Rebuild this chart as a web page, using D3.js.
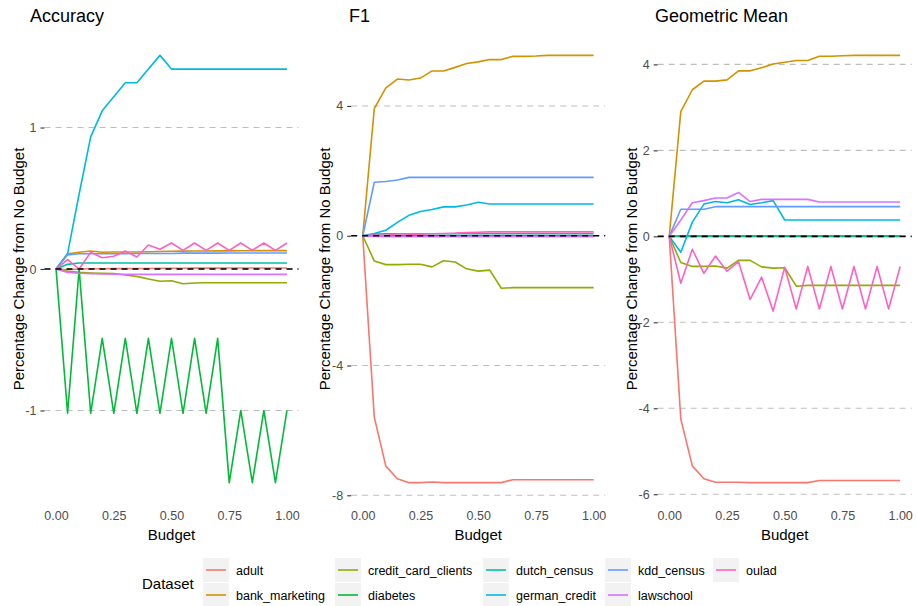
<!DOCTYPE html>
<html>
<head>
<meta charset="utf-8">
<script src="https://cdn.jsdelivr.net/npm/d3@7"></script>
<style>
  body { margin: 0; background: #fff; }
  svg text { font-family: "Liberation Sans", Arial, sans-serif; }
</style>
</head>
<body>
<svg id="chart" width="917" height="606"></svg>
<script>
// budget steps on the x axis
var budget = [0, 0.05, 0.10, 0.15, 0.20, 0.25, 0.30, 0.35, 0.40, 0.45, 0.50,
              0.55, 0.60, 0.65, 0.70, 0.75, 0.80, 0.85, 0.90, 0.95, 1.00];

var datasets = ["adult", "bank_marketing", "credit_card_clients", "diabetes", "dutch_census",
                "german_credit", "kdd_census", "lawschool", "oulad"];
var colors = ["#F8766D", "#D39200", "#93AA00", "#00BA38", "#00C19F",
              "#00B9E3", "#619CFF", "#DB72FB", "#FF61C3"];

var xTicks = [0, 0.25, 0.5, 0.75, 1];
var metricNames = ["Accuracy", "F1", "Geometric Mean"];
var yTicks = [[-1, 0, 1], [-8, -4, 0, 4], [-6, -4, -2, 0, 2, 4]];

// percentage change per dataset
var accuracy = {
  adult: [0, -0.005, 0, 0.002, 0.002, 0.003, 0.003, 0.004, 0.004, 0.005, 0.005, 0.005, 0.006, 0.006, 0.006, 0.007, 0.007, 0.007, 0.007, 0.007, 0.007],
  bank_marketing: [0, 0.108, 0.118, 0.127, 0.118, 0.12, 0.12, 0.12, 0.122, 0.124, 0.125, 0.126, 0.127, 0.127, 0.128, 0.128, 0.129, 0.129, 0.13, 0.13, 0.13],
  credit_card_clients: [0, -0.017, -0.024, -0.028, -0.031, -0.033, -0.042, -0.052, -0.071, -0.087, -0.083, -0.104, -0.099, -0.097, -0.097, -0.097, -0.097, -0.097, -0.097, -0.097, -0.097],
  diabetes: [0, -1.02, 0, -1.02, -0.49, -1.02, -0.49, -1.02, -0.49, -1.02, -0.49, -1.02, -0.49, -1.02, -0.49, -1.51, -1.0, -1.51, -1.0, -1.51, -1.0],
  dutch_census: [0, 0.033, 0.042, 0.042, 0.042, 0.042, 0.042, 0.042, 0.042, 0.042, 0.042, 0.042, 0.042, 0.042, 0.042, 0.042, 0.042, 0.042, 0.042, 0.042, 0.042],
  german_credit: [0, 0.108, 0.53, 0.934, 1.118, 1.217, 1.316, 1.316, 1.413, 1.51, 1.413, 1.413, 1.413, 1.413, 1.413, 1.413, 1.413, 1.413, 1.413, 1.413, 1.413],
  kdd_census: [0, 0.1, 0.108, 0.108, 0.108, 0.108, 0.108, 0.11, 0.11, 0.11, 0.11, 0.112, 0.112, 0.112, 0.112, 0.113, 0.113, 0.113, 0.113, 0.113, 0.113],
  lawschool: [0, -0.024, -0.03, -0.033, -0.035, -0.036, -0.037, -0.037, -0.038, -0.038, -0.038, -0.038, -0.038, -0.038, -0.038, -0.038, -0.038, -0.038, -0.038, -0.038, -0.038],
  oulad: [0, 0.066, 0, 0.118, 0.08, 0.09, 0.127, 0.085, 0.17, 0.14, 0.184, 0.132, 0.184, 0.132, 0.184, 0.132, 0.184, 0.132, 0.184, 0.132, 0.184]
};

var f1 = {
  adult: [0, -5.59, -7.1, -7.49, -7.61, -7.61, -7.59, -7.61, -7.61, -7.61, -7.61, -7.61, -7.61, -7.52, -7.52, -7.52, -7.52, -7.52, -7.52, -7.52, -7.52],
  bank_marketing: [0, 3.92, 4.56, 4.83, 4.8, 4.86, 5.08, 5.08, 5.19, 5.31, 5.36, 5.43, 5.43, 5.53, 5.53, 5.54, 5.56, 5.56, 5.56, 5.56, 5.56],
  credit_card_clients: [0, -0.78, -0.89, -0.89, -0.88, -0.88, -0.96, -0.77, -0.81, -1.02, -1.09, -1.06, -1.62, -1.6, -1.6, -1.6, -1.6, -1.6, -1.6, -1.6, -1.6],
  diabetes: [0, 0, 0, 0, 0, 0, 0, 0, 0, 0, 0, 0, 0, 0, 0, 0, 0, 0, 0, 0, 0],
  dutch_census: [0, 0.05, 0.06, 0.06, 0.06, 0.06, 0.06, 0.06, 0.06, 0.06, 0.06, 0.06, 0.06, 0.06, 0.06, 0.06, 0.06, 0.06, 0.06, 0.06, 0.06],
  german_credit: [0, 0.07, 0.17, 0.41, 0.63, 0.75, 0.81, 0.89, 0.89, 0.95, 1.03, 0.98, 0.98, 0.98, 0.98, 0.98, 0.98, 0.98, 0.98, 0.98, 0.98],
  kdd_census: [0, 1.65, 1.67, 1.72, 1.8, 1.8, 1.8, 1.8, 1.8, 1.8, 1.8, 1.8, 1.8, 1.8, 1.8, 1.8, 1.8, 1.8, 1.8, 1.8, 1.8],
  lawschool: [0, -0.02, -0.03, -0.03, -0.03, -0.03, -0.03, -0.03, -0.03, -0.03, -0.03, -0.03, -0.03, -0.03, -0.03, -0.03, -0.03, -0.03, -0.03, -0.03, -0.03],
  oulad: [0, 0.02, 0.01, 0.06, 0.05, 0.05, 0.06, 0.07, 0.08, 0.1, 0.11, 0.12, 0.12, 0.12, 0.12, 0.12, 0.12, 0.12, 0.12, 0.12, 0.12]
};

var gmean = {
  adult: [0, -4.25, -5.34, -5.64, -5.72, -5.72, -5.72, -5.73, -5.73, -5.73, -5.73, -5.73, -5.73, -5.68, -5.68, -5.68, -5.68, -5.68, -5.68, -5.68, -5.68],
  bank_marketing: [0, 2.9, 3.41, 3.61, 3.61, 3.64, 3.85, 3.85, 3.92, 4.01, 4.05, 4.09, 4.09, 4.19, 4.19, 4.2, 4.21, 4.21, 4.21, 4.21, 4.21],
  credit_card_clients: [0, -0.61, -0.7, -0.7, -0.69, -0.74, -0.56, -0.56, -0.71, -0.74, -0.73, -1.16, -1.14, -1.14, -1.14, -1.14, -1.14, -1.14, -1.14, -1.14, -1.14],
  diabetes: [0, 0, 0, 0, 0, 0, 0, 0, 0, 0, 0, 0, 0, 0, 0, 0, 0, 0, 0, 0, 0],
  dutch_census: [0, 0.01, 0.01, 0.01, 0.01, 0.01, 0.01, 0.01, 0.01, 0.01, 0.01, 0.01, 0.01, 0.01, 0.01, 0.01, 0.01, 0.01, 0.01, 0.01, 0.01],
  german_credit: [0, -0.37, 0.33, 0.75, 0.81, 0.78, 0.85, 0.74, 0.78, 0.83, 0.38, 0.38, 0.38, 0.38, 0.38, 0.38, 0.38, 0.38, 0.38, 0.38, 0.38],
  kdd_census: [0, 0.63, 0.63, 0.63, 0.69, 0.69, 0.69, 0.69, 0.69, 0.69, 0.69, 0.69, 0.69, 0.69, 0.69, 0.69, 0.69, 0.69, 0.69, 0.69, 0.69],
  lawschool: [0, 0.38, 0.78, 0.83, 0.89, 0.89, 1.02, 0.81, 0.86, 0.86, 0.86, 0.86, 0.86, 0.8, 0.8, 0.8, 0.8, 0.8, 0.8, 0.8, 0.8],
  oulad: [0, -1.09, -0.3, -0.86, -0.46, -0.81, -0.59, -1.47, -0.95, -1.74, -0.72, -1.69, -0.7, -1.69, -0.7, -1.69, -0.7, -1.69, -0.7, -1.69, -0.7]
};

var metrics = [accuracy, f1, gmean];

var svg = d3.select("#chart");
var color = d3.scaleOrdinal().domain(datasets).range(colors);

var panelLefts = [44.5, 351.2, 657.7];
var titleX = [30, 349, 655];
var panelW = 254;
var panelTop = 34, panelBottom = 504;

metrics.forEach(function (metric, m) {
  var left = panelLefts[m];

  // ggplot style 5% expansion
  var x = d3.scaleLinear().domain([-0.05, 1.05]).range([left, left + panelW]);
  var allVals = [0];
  datasets.forEach(function (d) { allVals = allVals.concat(metric[d]); });
  var ext = d3.extent(allVals);
  var pad = (ext[1] - ext[0]) * 0.05;
  var y = d3.scaleLinear().domain([ext[0] - pad, ext[1] + pad]).range([panelBottom, panelTop]);

  var g = svg.append("g");

  // dashed gridlines
  g.selectAll("line.grid")
    .data(yTicks[m])
    .enter().append("line")
    .attr("class", "grid")
    .attr("x1", left).attr("x2", left + panelW)
    .attr("y1", function (d) { return y(d); })
    .attr("y2", function (d) { return y(d); })
    .attr("stroke", "#BEBEBE")
    .attr("stroke-width", 1.1)
    .attr("stroke-dasharray", "6,5");

  // y axis
  var yAxis = g.append("g")
    .attr("transform", "translate(" + left + ",0)")
    .call(d3.axisLeft(y).tickValues(yTicks[m]).tickSize(4).tickPadding(4).tickFormat(d3.format("d")));
  yAxis.select(".domain").remove();
  yAxis.selectAll(".tick line").attr("stroke", "#333333").attr("stroke-width", 1.1);
  yAxis.selectAll(".tick text")
    .attr("fill", "#4D4D4D")
    .style("font-size", "12.5px")
    .text(function (d) { return d < 0 ? "-" + Math.abs(d) : d; });

  // x axis labels
  var xAxis = g.append("g")
    .attr("transform", "translate(0," + panelBottom + ")")
    .call(d3.axisBottom(x).tickValues(xTicks).tickSize(0).tickPadding(7).tickFormat(d3.format(".2f")));
  xAxis.select(".domain").remove();
  xAxis.selectAll(".tick text").attr("fill", "#4D4D4D").style("font-size", "12.5px");

  // lines
  var line = d3.line()
    .x(function (d, i) { return x(budget[i]); })
    .y(function (d) { return y(d); });

  g.selectAll("path.series")
    .data(datasets)
    .enter().append("path")
    .attr("class", "series")
    .attr("d", function (d) { return line(metric[d]); })
    .attr("fill", "none")
    .attr("stroke", function (d) { return color(d); })
    .attr("stroke-width", 1.6)
    .attr("stroke-linejoin", "round");

  // zero reference line
  g.append("line")
    .attr("x1", left).attr("x2", left + panelW)
    .attr("y1", y(0)).attr("y2", y(0))
    .attr("stroke", "#000")
    .attr("stroke-width", 1.6)
    .attr("stroke-dasharray", "6,5");

  // titles
  g.append("text")
    .attr("x", titleX[m])
    .attr("y", 22)
    .style("font-size", "18px")
    .attr("fill", "#000")
    .text(metricNames[m]);

  g.append("text")
    .attr("x", left + panelW / 2)
    .attr("y", 540)
    .attr("text-anchor", "middle")
    .style("font-size", "15px")
    .text("Budget");

  g.append("text")
    .attr("transform", "translate(" + (left - 21) + "," + ((panelTop + panelBottom) / 2) + ") rotate(-90)")
    .attr("text-anchor", "middle")
    .style("font-size", "15px")
    .text("Percentage Change from No Budget");
});

// legend
var legend = svg.append("g");
legend.append("text")
  .attr("x", 142)
  .attr("y", 589)
  .style("font-size", "15px")
  .text("Dataset");

var colX = [203, 335, 483, 605, 713];
var rowY = [558, 583];
var keyW = 26, keyH = 24;

datasets.forEach(function (d, i) {
  var cx = colX[Math.floor(i / 2)];
  var ry = rowY[i % 2];
  legend.append("rect")
    .attr("x", cx).attr("y", ry)
    .attr("width", keyW).attr("height", keyH)
    .attr("fill", "#F2F2F2");
  legend.append("line")
    .attr("x1", cx + 3).attr("x2", cx + keyW - 3)
    .attr("y1", ry + keyH / 2).attr("y2", ry + keyH / 2)
    .attr("stroke", color(d))
    .attr("stroke-width", 1.6);
  legend.append("text")
    .attr("x", cx + keyW + 7)
    .attr("y", ry + keyH / 2 + 4.5)
    .style("font-size", "12.5px")
    .text(d);
});
</script>
</body>
</html>
